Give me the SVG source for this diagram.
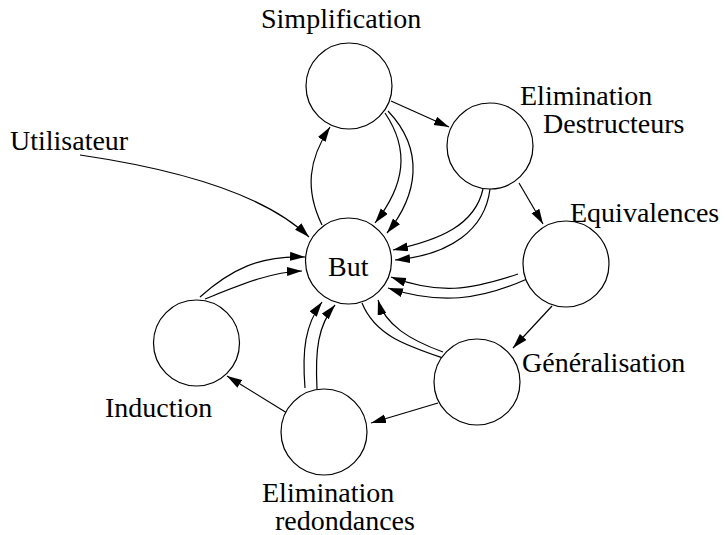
<svg xmlns="http://www.w3.org/2000/svg" width="725" height="535" viewBox="0 0 725 535">
  <style>
    .node { fill: #ffffff; stroke: #000000; stroke-width: 1.2; }
    .edge { fill: none; stroke: #000000; stroke-width: 1.2; marker-end: url(#head); }
    .plain { fill: none; stroke: #000000; stroke-width: 1.2; }
    text { font-family: "Liberation Serif", "Times New Roman", serif; font-size: 28px; fill: #000000; }
  </style>
  <defs>
    <marker id="head" markerUnits="userSpaceOnUse" markerWidth="16" markerHeight="10" refX="15" refY="4.5" orient="auto">
      <path d="M0,0 L15,4.5 L0,9 Z" fill="#000000"/>
    </marker>
  </defs>
  <rect width="725" height="535" fill="#ffffff"/>

  <g id="connectors">
    <path class="edge" d="M80,155 Q250,180 309,237"/>
    <path class="edge" d="M322,225 C305,190 308,160 330,127"/>
    <path class="edge" d="M385,113 C410,150 405,185 375,223"/>
    <path class="edge" d="M388,111 C425,150 418,195 387,233"/>
    <path class="edge" d="M391,101 L449,127"/>
    <path class="edge" d="M483,189 C475,225 440,240 393,250"/>
    <path class="edge" d="M490,189 C485,230 450,255 395,260"/>
    <path class="edge" d="M519,183 L543,224"/>
    <path class="edge" d="M518,274 C470,290 440,295 391,277"/>
    <path class="edge" d="M527,279 C480,300 440,305 388,288"/>
    <path class="edge" d="M552,306 L513,348"/>
    <path class="edge" d="M443,352 C410,340 385,325 378,300"/>
    <path class="plain" d="M362,303 C375,335 405,345 443,358"/>
    <path class="edge" d="M438,403 L371,423"/>
    <path class="edge" d="M305,388 C302,350 305,325 322,302"/>
    <path class="edge" d="M317,389 C315,350 318,325 335,305"/>
    <path class="edge" d="M287,413 L227,376"/>
    <path class="edge" d="M200,297 C230,270 260,255 305,257"/>
    <path class="edge" d="M205,299 C240,285 270,272 302,271"/>
  </g>

  <g id="but">
    <circle class="node" cx="348.5" cy="261" r="43"/>
    <text x="328" y="276">But</text>
  </g>
  <g id="simplification">
    <circle class="node" cx="349" cy="86" r="43"/>
    <text x="261" y="28">Simplification</text>
  </g>
  <g id="elimination-destructeurs">
    <circle class="node" cx="490" cy="146" r="43"/>
    <text x="520" y="105">Elimination</text>
    <text x="543" y="133">Destructeurs</text>
  </g>
  <g id="equivalences">
    <circle class="node" cx="566" cy="264" r="43"/>
    <text x="570" y="222">Equivalences</text>
  </g>
  <g id="generalisation">
    <circle class="node" cx="477" cy="382" r="43"/>
    <text x="522" y="372">Généralisation</text>
  </g>
  <g id="elimination-redondances">
    <circle class="node" cx="324" cy="432" r="43"/>
    <text x="262" y="502">Elimination</text>
    <text x="275" y="530">redondances</text>
  </g>
  <g id="induction">
    <circle class="node" cx="196.5" cy="343" r="43"/>
    <text x="105" y="417">Induction</text>
  </g>
  <g id="utilisateur">
    <text x="10" y="150">Utilisateur</text>
  </g>
</svg>
